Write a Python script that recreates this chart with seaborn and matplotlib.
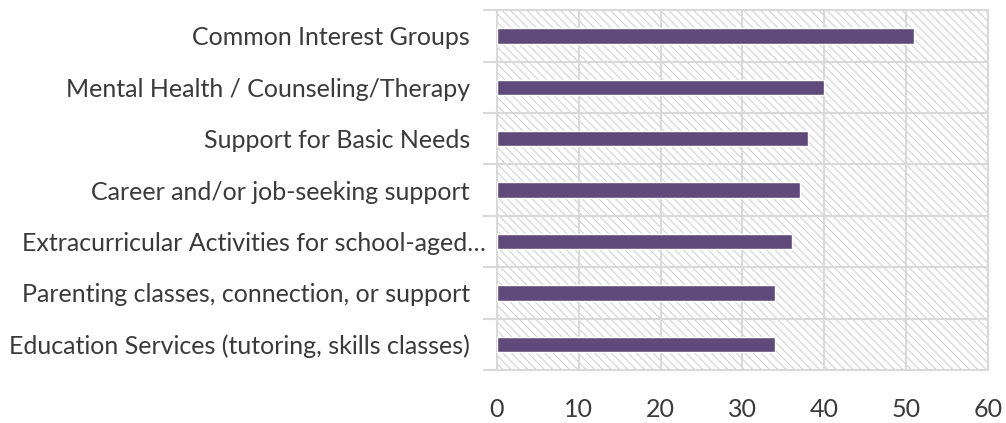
import matplotlib
matplotlib.use("Agg")
import matplotlib.pyplot as plt
import matplotlib.transforms as mtransforms
from matplotlib.patches import Rectangle
import seaborn as sns
import pandas as pd
import numpy as np

categories = [
    "Common Interest Groups",
    "Mental Health / Counseling/Therapy",
    "Support for Basic Needs",
    "Career and/or job-seeking support",
    "Extracurricular Activities for school-aged…",
    "Parenting classes, connection, or support",
    "Education Services (tutoring, skills classes)",
]
values = [51, 40, 38, 37, 36, 34, 34]
x_ticks = [0, 10, 20, 30, 40, 50, 60]

BAR_COLOR = "#604A7B"
GRID_COLOR = "#D9D9D9"
TEXT_COLOR = "#3A3A3A"
FONT_SIZE = 18

sns.set_theme(style="white")
plt.rcParams["font.family"] = ["Lato", "DejaVu Sans"]
plt.rcParams["font.weight"] = "normal"
plt.rcParams["hatch.color"] = "#CDCDCD"
plt.rcParams["hatch.linewidth"] = 0.7

df = pd.DataFrame({"category": categories, "value": values})

fig = plt.figure(figsize=(10.06, 4.23), dpi=100)
ax = fig.add_axes([0.494, 0.125, 0.488, 0.851])

# hatched plot background
ax.add_patch(Rectangle((0, 0), 1, 1, transform=ax.transAxes, facecolor="white",
                       edgecolor="#CDCDCD", linewidth=0, hatch="\\\\\\\\", zorder=0))

sns.barplot(data=df, x="value", y="category", orient="h", color=BAR_COLOR,
            width=0.3, saturation=1, ax=ax, zorder=3)

ax.set_xlim(0, 60)
ax.set_ylim(len(categories) - 0.5, -0.5)
ax.set_xticks(x_ticks)
ax.set_xticklabels([str(t) for t in x_ticks])
ax.set_xlabel("")
ax.set_ylabel("")

# category boundaries as minor ticks with gridlines
ax.set_yticks(np.arange(-0.5, len(categories), 1.0), minor=True)
ax.tick_params(axis="y", which="minor", length=10, width=1.5, color=GRID_COLOR, left=True)
ax.tick_params(axis="y", which="major", length=0, pad=19.5, labelsize=FONT_SIZE, labelcolor=TEXT_COLOR)
ax.tick_params(axis="x", which="major", length=0, pad=20, labelsize=FONT_SIZE, labelcolor=TEXT_COLOR)
ax.grid(True, axis="x", which="major", color=GRID_COLOR, linewidth=1.5, zorder=1)
ax.grid(True, axis="y", which="minor", color=GRID_COLOR, linewidth=1.5, zorder=1)
ax.grid(False, axis="y", which="major")
ax.set_axisbelow(True)
for s in ax.spines.values():
    s.set_color(GRID_COLOR)
    s.set_linewidth(1.5)

# the truncated label sits slightly further right
lbl = ax.get_yticklabels()[4]
lbl.set_transform(lbl.get_transform() + mtransforms.ScaledTranslation(0.16, 0, fig.dpi_scale_trans))

fig.savefig("out.png", dpi=100)
